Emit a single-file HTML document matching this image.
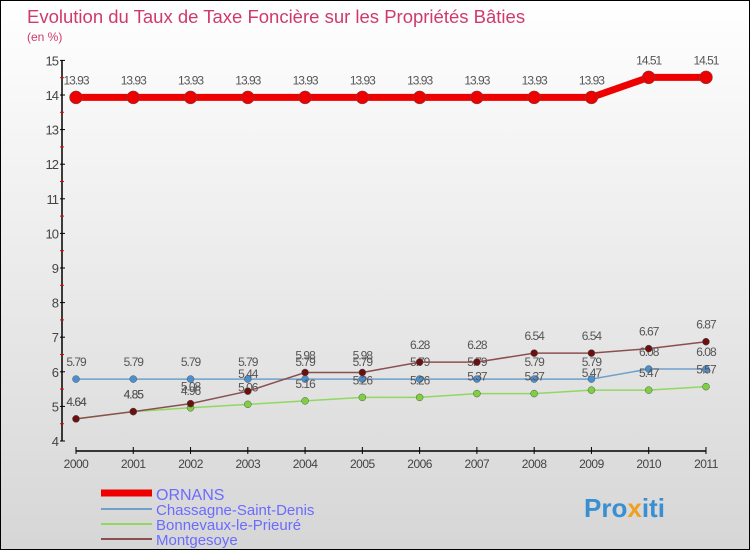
<!DOCTYPE html>
<html><head><meta charset="utf-8"><style>
body{margin:0;width:750px;height:550px;overflow:hidden;font-family:"Liberation Sans",sans-serif}
#wrap{position:relative;width:748px;height:548px;border:1px solid #000;background:linear-gradient(#fff,#d6d6d6)}
</style></head><body>
<div id="wrap">
<svg id="c" width="748" height="548" xmlns="http://www.w3.org/2000/svg">
<text x="26" y="22" font-size="18.5" fill="#d03a6a">Evolution du Taux de Taxe Foncière sur les Propriétés Bâties</text>
<text x="26" y="40" font-size="12" fill="#d03a6a">(en %)</text>
<g id="axes"></g><g id="series"></g>
<g>
<line x1="100" y1="492" x2="151" y2="492" stroke="#e00" stroke-width="7"/>
<line x1="100" y1="508" x2="151" y2="508" stroke="#6fa0cc" stroke-width="2"/>
<line x1="100" y1="523" x2="151" y2="523" stroke="#90d860" stroke-width="2"/>
<line x1="100" y1="538" x2="151" y2="538" stroke="#8a5050" stroke-width="2"/>
<text x="155" y="499" font-size="16" fill="#6b6bff">ORNANS</text>
<text x="155" y="514" font-size="15" fill="#6b6bff">Chassagne-Saint-Denis</text>
<text x="155" y="529" font-size="15" fill="#6b6bff">Bonnevaux-le-Prieuré</text>
<text x="155" y="544" font-size="15" fill="#6b6bff">Montgesoye</text>
</g>
<text x="583" y="516" font-size="26" font-weight="bold" fill="#3a8fd0">Pro<tspan fill="#f0a020">x</tspan>iti</text>
</svg></div>
<script>
const years=[2000,2001,2002,2003,2004,2005,2006,2007,2008,2009,2010,2011];
const ornans=[13.93,13.93,13.93,13.93,13.93,13.93,13.93,13.93,13.93,13.93,14.51,14.51];
const chassagne=[5.79,5.79,5.79,5.79,5.79,5.79,5.79,5.79,5.79,5.79,6.08,6.08];
const bonnevaux=[4.64,4.85,4.96,5.06,5.16,5.26,5.26,5.37,5.37,5.47,5.47,5.57];
const montgesoye=[4.64,4.85,5.08,5.44,5.98,5.98,6.28,6.28,6.54,6.54,6.67,6.87];
const yTicks=[4,5,6,7,8,9,10,11,12,13,14,15];
const NS="http://www.w3.org/2000/svg";
const xS=i=>75+i*57.27;
const yS=v=>440-(v-4)*34.6;
function mk(t,a,p){const e=document.createElementNS(NS,t);for(const k in a)e.setAttribute(k,a[k]);p.appendChild(e);return e;}
const ax=document.getElementById('axes'),sg=document.getElementById('series');
let l=mk('line',{x1:61,y1:yS(15),x2:61,y2:yS(4),stroke:'#000','stroke-width':1.5},ax);

l=mk('line',{x1:75,y1:450,x2:xS(11),y2:450,stroke:'#000','stroke-width':1.5},ax);

yTicks.forEach(v=>{mk('line',{x1:59,y1:yS(v),x2:64,y2:yS(v),stroke:'#000'},ax);
 if(v<15)mk('line',{x1:59,y1:yS(v+0.5),x2:63,y2:yS(v+0.5),stroke:'#e00'},ax);
 const t=mk('text',{x:57,y:yS(v)+5,'font-size':13,fill:'#444','text-anchor':'end','letter-spacing':'-1'},ax);t.textContent=v;
 });
years.forEach((y,i)=>{mk('line',{x1:xS(i),y1:446,x2:xS(i),y2:453,stroke:'#000'},ax);
 const t=mk('text',{x:xS(i),y:467,'font-size':12,fill:'#444','text-anchor':'middle','letter-spacing':'-0.5'},ax);t.textContent=y;
 });
function series(d,col,w,r,name,dot){const g=mk('g',{},sg);
 
 mk('polyline',{points:d.map((v,i)=>xS(i)+','+yS(v)).join(' '),fill:'none',stroke:col,'stroke-width':w},g);
 d.forEach((v,i)=>{const c=mk('circle',{cx:xS(i),cy:yS(v),r:r,fill:dot,stroke:'#555','stroke-width':0.5},g);
  
  const t=mk('text',{x:xS(i),y:yS(v)-13,'font-size':12,fill:'#555','text-anchor':'middle','letter-spacing':'-1'},g);t.textContent=v;});}
series(chassagne,'#6fa0cc',1.5,3.5,'chassagne-series','#4a90d0');
series(bonnevaux,'#90d860',1.5,3.5,'bonnevaux-series','#7fd040');
series(montgesoye,'#8a5050',1.5,3.5,'montgesoye-series','#6a1010');
series(ornans,'#e00',7,6.5,'ornans-series','#e00');
</script></body></html>
